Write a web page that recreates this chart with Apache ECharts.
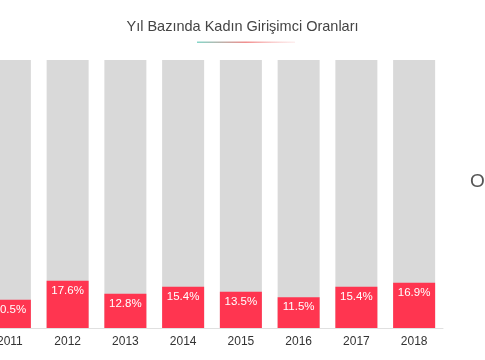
<!DOCTYPE html>
<html><head><meta charset="utf-8">
<script src="https://cdn.jsdelivr.net/npm/echarts@6/dist/echarts.min.js"></script>
<style>html,body{margin:0;padding:0;background:#fff}#c{width:485px;height:360px}</style>
</head><body><div id="c"></div>
<script>
const years = ['2011','2012','2013','2014','2015','2016','2017','2018'];
const rates = [10.5, 17.6, 12.8, 15.4, 13.5, 11.5, 15.4, 16.9];
const fullValues = [100, 100, 100, 100, 100, 100, 100, 100];
const titleText = 'Yıl Bazında Kadın Girişimci Oranları';
const sideText = 'O';

const chart = echarts.init(document.getElementById('c'), null, {renderer:'canvas'});
chart.setOption({
  animation:false,
  title:{text:titleText, left:'center', top:14,
    textStyle:{fontFamily:'Liberation Sans, Arial, sans-serif', fontSize:14.5, fontWeight:'normal', color:'#444'}},
  graphic:[
    {type:'rect', shape:{x:197,y:41.5,width:98,height:1.5},
     style:{fill:new echarts.graphic.LinearGradient(0,0,1,0,[
       {offset:0,color:'rgba(120,210,195,0.9)'},
       {offset:0.5,color:'rgba(240,130,130,0.9)'},
       {offset:1,color:'rgba(250,200,200,0.3)'}])}},
    {type:'text', left:470, top:172,
     style:{text:sideText, fontFamily:'Liberation Sans, Arial, sans-serif', fontSize:19, fill:'#555'}}
  ],
  grid:{left:-19, width:462, top:60, bottom:32, containLabel:false, outerBoundsMode:'none'},
  xAxis:{type:'category', data:years,
    axisLine:{lineStyle:{color:'#e0e0e0'}}, axisTick:{show:false},
    axisLabel:{color:'#333', fontSize:12, margin:8, fontFamily:'Liberation Sans, Arial, sans-serif'}},
  yAxis:{type:'value', min:0, max:100, show:false},
  series:[
    {type:'bar', data:fullValues, barWidth:42, itemStyle:{color:'#d9d9d9'}, silent:true, z:1},
    {type:'bar', data:rates, barWidth:42, barGap:'-100%', itemStyle:{color:'#ff3550'}, z:2,
     label:{show:true, position:'insideTop', distance:4, color:'#fff', fontSize:11.5,
       fontFamily:'Liberation Sans, Arial, sans-serif', formatter:p=>p.value.toFixed(1)+'%'}}
  ]
});
</script></body></html>
